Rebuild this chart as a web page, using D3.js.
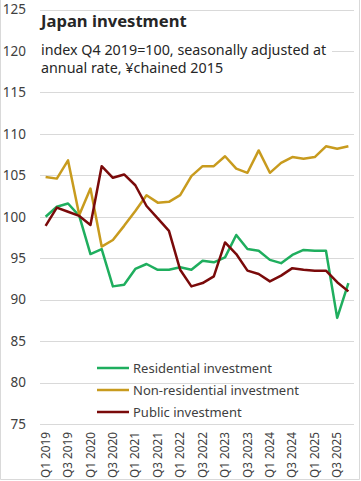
<!DOCTYPE html>
<html>
<head>
<meta charset="utf-8">
<script src="https://cdn.jsdelivr.net/npm/d3@7"></script>
<style>
  body { margin: 0; background: #fff; }
  text { font-family: "Noto Sans", sans-serif; }
</style>
</head>
<body>
<script>
// data
var quarters = [];
[2019, 2020, 2021, 2022, 2023, 2024, 2025].forEach(function (y) {
  [1, 2, 3, 4].forEach(function (q) { quarters.push("Q" + q + " " + y); });
});

var residential = [100.0, 101.2, 101.6, 100.1, 95.5, 96.1, 91.6, 91.8, 93.7, 94.3, 93.6, 93.6, 93.9, 93.6,
  94.7, 94.5, 95.1, 97.8, 96.1, 95.9, 94.8, 94.4, 95.4, 96.0, 95.9, 95.9, 87.8, 92.0];
var nonResidential = [104.8, 104.6, 106.8, 100.2, 103.4, 96.4, 97.2, 98.9, 100.7, 102.6, 101.7, 101.8, 102.6, 104.9,
  106.1, 106.1, 107.3, 105.8, 105.3, 108.0, 105.3, 106.5, 107.2, 107.0, 107.2, 108.5, 108.2, 108.5];
var publicInv = [98.9, 101.1, 100.6, 100.1, 99.0, 106.1, 104.7, 105.1, 103.8, 101.3, 99.8, 98.3, 93.6, 91.6,
  92.0, 92.8, 96.9, 95.5, 93.5, 93.1, 92.2, 92.9, 93.8, 93.6, 93.5, 93.5, 92.1, 91.0];

var seriesNames = ["Residential investment", "Non-residential investment", "Public investment"];
var seriesColors = ["#1fae5e", "#c89b1e", "#7a0a0a"];
var yTicks = [75, 80, 85, 90, 95, 100, 105, 110, 115, 120, 125];

var W = 361, H = 481;
var margin = {top: 9.5, right: 7, bottom: 57, left: 40};

var svg = d3.select("body").append("svg")
  .attr("width", W)
  .attr("height", H);

// outer border
svg.append("path")
  .attr("d", "M0.5,0 V" + (H - 1.5) + " H" + (W - 1.5) + " V0")
  .attr("fill", "none")
  .attr("stroke", "#d9d9d9");

var x = d3.scaleBand().domain(quarters).range([margin.left, W - margin.right]);
var y = d3.scaleLinear().domain([75, 125]).range([H - margin.bottom, margin.top]);

// gridlines
svg.append("g")
  .selectAll("line")
  .data(yTicks)
  .enter().append("line")
  .attr("x1", margin.left)
  .attr("x2", W - margin.right)
  .attr("y1", function (d) { return Math.round(y(d)) + 0.5; })
  .attr("y2", function (d) { return Math.round(y(d)) + 0.5; })
  .attr("stroke", "#d9d9d9")
  .attr("stroke-width", 1);

// y labels
var yAxis = d3.axisLeft(y).tickValues(yTicks).tickSize(0).tickPadding(0);
var gy = svg.append("g")
  .attr("transform", "translate(26,0)")
  .call(yAxis);
gy.select(".domain").remove();
gy.selectAll("text")
  .attr("font-size", 13.5)
  .attr("font-family", "Noto Sans, sans-serif")
  .attr("fill", "#404040");

// x labels, every 2nd quarter
var xAxis = d3.axisBottom(x)
  .tickValues(quarters.filter(function (d, i) { return i % 2 === 0; }))
  .tickSize(0);
var gx = svg.append("g")
  .attr("transform", "translate(0," + (H - margin.bottom) + ")")
  .call(xAxis);
gx.select(".domain").remove();
gx.selectAll("text")
  .attr("font-size", 11.8)
  .attr("font-family", "Noto Sans, sans-serif")
  .attr("fill", "#404040")
  .attr("text-anchor", "end")
  .attr("dy", "0.35em")
  .attr("transform", "translate(0,8) rotate(-90)")
  .attr("x", 0)
  .attr("y", 0);

// title block
svg.append("rect")
  .attr("x", 40).attr("y", 40).attr("width", 292).attr("height", 36)
  .attr("fill", "#fff");
svg.append("text")
  .attr("x", 41).attr("y", 27)
  .attr("font-size", 16.6)
  .attr("font-weight", "bold")
  .attr("fill", "#262626")
  .text("Japan investment");
svg.append("text")
  .attr("x", 41).attr("y", 55)
  .attr("font-size", 14.3)
  .attr("fill", "#262626")
  .text("index Q4 2019=100, seasonally adjusted at");
svg.append("text")
  .attr("x", 41).attr("y", 72.5)
  .attr("font-size", 14.3)
  .attr("fill", "#262626")
  .text("annual rate, \u00a5chained 2015");

// lines
var line = d3.line()
  .x(function (d, i) { return x(quarters[i]) + x.bandwidth() / 2; })
  .y(function (d) { return y(d); });

[residential, nonResidential, publicInv].forEach(function (s, k) {
  svg.append("path")
    .datum(s)
    .attr("d", line)
    .attr("fill", "none")
    .attr("stroke", seriesColors[k])
    .attr("stroke-width", 2.5)
    .attr("stroke-linejoin", "round");
});

// legend
var leg = svg.append("g").attr("transform", "translate(97,368)");
seriesNames.forEach(function (name, k) {
  var g = leg.append("g").attr("transform", "translate(0," + (k * 22) + ")");
  g.append("line")
    .attr("x1", 0).attr("x2", 32)
    .attr("stroke", seriesColors[k])
    .attr("stroke-width", 2.5);
  g.append("text")
    .attr("x", 36).attr("dy", "0.35em")
    .attr("font-size", 13)
    .attr("fill", "#404040")
    .text(name);
});
</script>
</body>
</html>
